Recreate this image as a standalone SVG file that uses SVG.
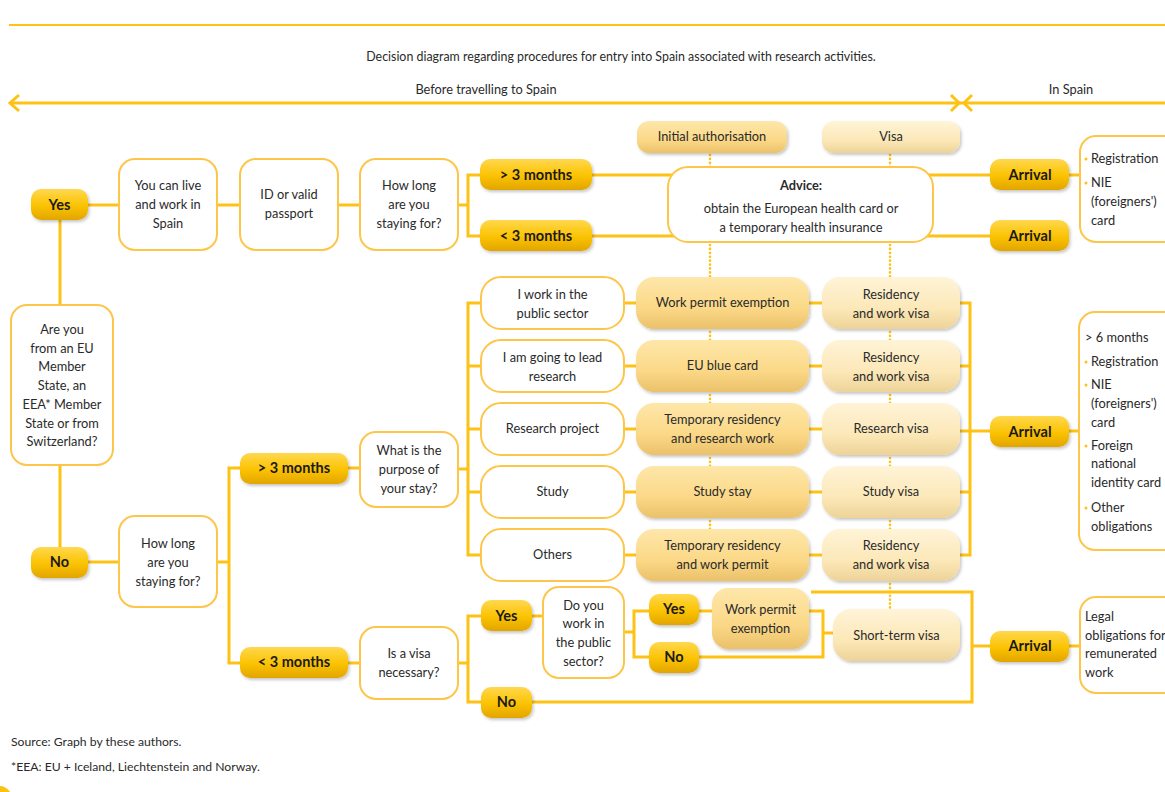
<svg xmlns="http://www.w3.org/2000/svg" width="1165" height="792" viewBox="0 0 1165 792">
<defs>
<linearGradient id="gold" x1="0" y1="0" x2="0" y2="1">
<stop offset="0" stop-color="#FFD84F"/><stop offset="0.55" stop-color="#FBC200"/><stop offset="1" stop-color="#E2A500"/>
</linearGradient>
<linearGradient id="perm" x1="0" y1="0" x2="0" y2="1">
<stop offset="0" stop-color="#FEE7AA"/><stop offset="0.6" stop-color="#FBD887"/><stop offset="1" stop-color="#EBC16A"/>
</linearGradient>
<linearGradient id="visa" x1="0" y1="0" x2="0" y2="1">
<stop offset="0" stop-color="#FFF4D8"/><stop offset="0.6" stop-color="#FCE8B8"/><stop offset="1" stop-color="#EDD398"/>
</linearGradient>
<filter id="sh" x="-20%" y="-20%" width="140%" height="150%">
<feDropShadow dx="1.5" dy="2" stdDeviation="1.5" flood-color="#000" flood-opacity="0.22"/>
</filter>
<style>
.ln{stroke:#FDC214;stroke-width:3;fill:none}
.thin{stroke:#FDC214;stroke-width:2;fill:none}
.dot{stroke:#FDC214;stroke-width:2.6;stroke-dasharray:0.1 3.8;stroke-linecap:round;fill:none}
.wb{fill:#fff;stroke:#FDC64A;stroke-width:2}
.gp{fill:url(#gold);filter:url(#sh)}
.pm{fill:url(#perm);filter:url(#sh)}
.vs{fill:url(#visa);filter:url(#sh)}
text{font-family:Lato,"Liberation Sans",sans-serif;font-size:12.8px;fill:#2a2a2a;text-anchor:middle}
.b{font-weight:bold;font-size:14.5px;fill:#1a1a1a}
.l{text-anchor:start}
.bul{fill:#FDC214}
</style>
</defs>
<rect width="1165" height="792" fill="#fff"/>

<g id="header">
<line class="thin" x1="9" y1="25" x2="1165" y2="25"/>
<text x="621" y="61" style="font-size:12.4px">Decision diagram regarding procedures for entry into Spain associated with research activities.</text>
<line class="ln" x1="10" y1="103" x2="1165" y2="103"/>
<polyline class="ln" points="19,95 10,103 19,111"/>
<polyline class="ln" points="951,95 959,103 951,111"/>
<polyline class="ln" points="972,95 964,103 972,111"/>
<text x="486" y="94">Before travelling to Spain</text>
<text x="1071" y="94">In Spain</text>
</g>

<g id="connectors">
<line class="ln" x1="88" y1="205" x2="119" y2="205"/>
<line class="ln" x1="217" y1="205" x2="240" y2="205"/>
<line class="ln" x1="338" y1="205" x2="360" y2="205"/>
<polyline class="ln" points="458,205 468,205"/>
<polyline class="ln" points="480,175 468,175 468,236 480,236"/>
<line class="ln" x1="592" y1="175" x2="990" y2="175"/>
<line class="ln" x1="592" y1="236" x2="990" y2="236"/>
<line class="ln" x1="1069" y1="175" x2="1081" y2="175"/>
<line class="dot" x1="710" y1="155" x2="710" y2="167"/>
<line class="dot" x1="890" y1="155" x2="890" y2="167"/>
<line class="dot" x1="710" y1="245" x2="710" y2="277"/>
<line class="dot" x1="890" y1="245" x2="890" y2="277"/>
<line class="dot" x1="710" y1="332" x2="710" y2="340"/>
<line class="dot" x1="890" y1="332" x2="890" y2="340"/>
<line class="dot" x1="710" y1="395" x2="710" y2="403"/>
<line class="dot" x1="890" y1="395" x2="890" y2="403"/>
<line class="dot" x1="710" y1="458" x2="710" y2="466"/>
<line class="dot" x1="890" y1="458" x2="890" y2="466"/>
<line class="dot" x1="710" y1="521" x2="710" y2="529"/>
<line class="dot" x1="890" y1="521" x2="890" y2="529"/>
<line class="dot" x1="890" y1="584" x2="890" y2="609"/>
<line class="ln" x1="60" y1="220" x2="60" y2="305"/>
<line class="ln" x1="60" y1="465" x2="60" y2="547"/>
<line class="ln" x1="88" y1="562" x2="119" y2="562"/>
<line class="ln" x1="217" y1="562" x2="229" y2="562"/>
<polyline class="ln" points="240,468 229,468 229,663 240,663"/>
<line class="ln" x1="348" y1="468" x2="360" y2="468"/>
<line class="ln" x1="458" y1="469" x2="468" y2="469"/>
<polyline class="ln" points="481,303 468,303 468,555 481,555"/>
<line class="ln" x1="468" y1="366" x2="481" y2="366"/>
<line class="ln" x1="468" y1="429" x2="481" y2="429"/>
<line class="ln" x1="468" y1="492" x2="481" y2="492"/>
<line class="ln" x1="624" y1="303" x2="636" y2="303"/>
<line class="ln" x1="624" y1="366" x2="636" y2="366"/>
<line class="ln" x1="624" y1="429" x2="636" y2="429"/>
<line class="ln" x1="624" y1="492" x2="636" y2="492"/>
<line class="ln" x1="624" y1="555" x2="636" y2="555"/>
<line class="ln" x1="809" y1="303" x2="822" y2="303"/>
<line class="ln" x1="809" y1="366" x2="822" y2="366"/>
<line class="ln" x1="809" y1="429" x2="822" y2="429"/>
<line class="ln" x1="809" y1="492" x2="822" y2="492"/>
<line class="ln" x1="809" y1="555" x2="822" y2="555"/>
<polyline class="ln" points="960,303 970,303 970,555 960,555"/>
<line class="ln" x1="960" y1="366" x2="970" y2="366"/>
<line class="ln" x1="960" y1="431" x2="990" y2="431"/>
<line class="ln" x1="960" y1="492" x2="970" y2="492"/>
<line class="ln" x1="1069" y1="431" x2="1080" y2="431"/>
<line class="ln" x1="348" y1="663" x2="360" y2="663"/>
<line class="ln" x1="458" y1="663" x2="468" y2="663"/>
<polyline class="ln" points="481,616 468,616 468,702 481,702"/>
<line class="ln" x1="532" y1="616" x2="543" y2="616"/>
<line class="ln" x1="624" y1="632" x2="634" y2="632"/>
<polyline class="ln" points="649,611 634,611 634,657 649,657"/>
<line class="ln" x1="699" y1="611" x2="712" y2="611"/>
<polyline class="ln" points="809,611 823,611 823,657 699,657"/>
<line class="ln" x1="823" y1="633" x2="833" y2="633"/>
<polyline class="ln" points="811,592 972,592 972,702 532,702"/>
<line class="ln" x1="972" y1="646" x2="990" y2="646"/>
<line class="ln" x1="1069" y1="646" x2="1080" y2="646"/>
</g>

<g id="yes1"><rect class="gp" x="31" y="189" width="57" height="31" rx="10"/><text class="b" x="59.5" y="210">Yes</text></g>
<g id="live"><rect class="wb" x="119" y="159" width="98" height="91" rx="16"/><text x="168" y="190">You can live</text><text x="168" y="209">and work in</text><text x="168" y="228">Spain</text></g>
<g id="idpass"><rect class="wb" x="240" y="159" width="98" height="91" rx="16"/><text x="289" y="199">ID or valid</text><text x="289" y="218">passport</text></g>
<g id="howlong1"><rect class="wb" x="360" y="159" width="98" height="91" rx="16"/><text x="409" y="190">How long</text><text x="409" y="209">are you</text><text x="409" y="228">staying for?</text></g>
<g id="gt3a"><rect class="gp" x="480" y="159" width="112" height="31" rx="10"/><text class="b" x="536" y="180">&gt; 3 months</text></g>
<g id="lt3a"><rect class="gp" x="480" y="220" width="112" height="31" rx="10"/><text class="b" x="536" y="241">&lt; 3 months</text></g>
<g id="initauth"><rect class="pm" x="637" y="121" width="150" height="32" rx="12"/><text x="712" y="141">Initial authorisation</text></g>
<g id="visa"><rect class="vs" x="822" y="121" width="138" height="32" rx="12"/><text x="891" y="141">Visa</text></g>
<g id="advice"><rect class="wb" x="668" y="167" width="265" height="75" rx="20"/><text x="801" y="190" style="font-weight:bold">Advice:</text><text x="801" y="213">obtain the European health card or</text><text x="801" y="232">a temporary health insurance</text></g>
<g id="arrival1"><rect class="gp" x="990" y="159" width="79" height="31" rx="10"/><text class="b" x="1030" y="180">Arrival</text></g>
<g id="arrival2"><rect class="gp" x="990" y="220" width="79" height="31" rx="10"/><text class="b" x="1030" y="241">Arrival</text></g>
<g id="reg1"><rect class="wb" x="1080" y="136" width="110" height="106" rx="16"/>
<circle class="bul" cx="1086" cy="159" r="1.5"/><text class="l" x="1091" y="163">Registration</text>
<circle class="bul" cx="1086" cy="183" r="1.5"/><text class="l" x="1091" y="187">NIE</text>
<text class="l" x="1091" y="206">(foreigners')</text><text class="l" x="1091" y="225">card</text></g>

<g id="eu"><rect class="wb" x="11" y="305" width="102" height="160" rx="16"/>
<text x="62" y="334">Are you</text><text x="62" y="353">from an EU</text><text x="62" y="371">Member</text><text x="62" y="390">State, an</text><text x="62" y="409">EEA* Member</text><text x="62" y="428">State or from</text><text x="62" y="446">Switzerland?</text></g>
<g id="no1"><rect class="gp" x="31" y="547" width="57" height="31" rx="10"/><text class="b" x="59.5" y="567">No</text></g>
<g id="howlong2"><rect class="wb" x="119" y="516" width="98" height="91" rx="16"/><text x="168" y="548">How long</text><text x="168" y="567">are you</text><text x="168" y="586">staying for?</text></g>
<g id="gt3b"><rect class="gp" x="240" y="453" width="108" height="31" rx="10"/><text class="b" x="294" y="473">&gt; 3 months</text></g>
<g id="lt3b"><rect class="gp" x="240" y="647" width="108" height="31" rx="10"/><text class="b" x="294" y="667">&lt; 3 months</text></g>
<g id="purpose"><rect class="wb" x="360" y="432" width="98" height="75" rx="16"/><text x="409" y="455">What is the</text><text x="409" y="474">purpose of</text><text x="409" y="493">your stay?</text></g>

<g id="opt1"><rect class="wb" x="481" y="277" width="143" height="52" rx="20"/><text x="552.5" y="299">I work in the</text><text x="552.5" y="318">public sector</text></g>
<g id="opt2"><rect class="wb" x="481" y="340" width="143" height="52" rx="20"/><text x="552.5" y="362">I am going to lead</text><text x="552.5" y="381">research</text></g>
<g id="opt3"><rect class="wb" x="481" y="403" width="143" height="52" rx="20"/><text x="552.5" y="433">Research project</text></g>
<g id="opt4"><rect class="wb" x="481" y="466" width="143" height="52" rx="20"/><text x="552.5" y="496">Study</text></g>
<g id="opt5"><rect class="wb" x="481" y="529" width="143" height="52" rx="20"/><text x="552.5" y="559">Others</text></g>

<g id="perm1"><rect class="pm" x="636" y="277" width="173" height="52" rx="18"/><text x="722.5" y="307">Work permit exemption</text></g>
<g id="perm2"><rect class="pm" x="636" y="340" width="173" height="52" rx="18"/><text x="722.5" y="370">EU blue card</text></g>
<g id="perm3"><rect class="pm" x="636" y="403" width="173" height="52" rx="18"/><text x="722.5" y="424">Temporary residency</text><text x="722.5" y="443">and research work</text></g>
<g id="perm4"><rect class="pm" x="636" y="466" width="173" height="52" rx="18"/><text x="722.5" y="496">Study stay</text></g>
<g id="perm5"><rect class="pm" x="636" y="529" width="173" height="52" rx="18"/><text x="722.5" y="550">Temporary residency</text><text x="722.5" y="569">and work permit</text></g>

<g id="visa1"><rect class="vs" x="822" y="277" width="138" height="52" rx="18"/><text x="891" y="299">Residency</text><text x="891" y="318">and work visa</text></g>
<g id="visa2"><rect class="vs" x="822" y="340" width="138" height="52" rx="18"/><text x="891" y="362">Residency</text><text x="891" y="381">and work visa</text></g>
<g id="visa3"><rect class="vs" x="822" y="403" width="138" height="52" rx="18"/><text x="891" y="433">Research visa</text></g>
<g id="visa4"><rect class="vs" x="822" y="466" width="138" height="52" rx="18"/><text x="891" y="496">Study visa</text></g>
<g id="visa5"><rect class="vs" x="822" y="529" width="138" height="52" rx="18"/><text x="891" y="550">Residency</text><text x="891" y="569">and work visa</text></g>

<g id="arrival3"><rect class="gp" x="990" y="416" width="79" height="31" rx="10"/><text class="b" x="1030" y="437">Arrival</text></g>
<g id="reg2"><rect class="wb" x="1079" y="312" width="110" height="238" rx="16"/>
<text class="l" x="1085" y="342">&gt; 6 months</text>
<circle class="bul" cx="1086" cy="362" r="1.5"/><text class="l" x="1091" y="366">Registration</text>
<circle class="bul" cx="1086" cy="385" r="1.5"/><text class="l" x="1091" y="389">NIE</text>
<text class="l" x="1091" y="408">(foreigners')</text><text class="l" x="1091" y="427">card</text>
<circle class="bul" cx="1086" cy="446" r="1.5"/><text class="l" x="1091" y="450">Foreign</text>
<text class="l" x="1091" y="468">national</text><text class="l" x="1091" y="487">identity card</text>
<circle class="bul" cx="1086" cy="508" r="1.5"/><text class="l" x="1091" y="512">Other</text>
<text class="l" x="1091" y="531">obligations</text></g>

<g id="visaq"><rect class="wb" x="360" y="627" width="98" height="72" rx="16"/><text x="409" y="658">Is a visa</text><text x="409" y="677">necessary?</text></g>
<g id="yes2"><rect class="gp" x="481" y="600" width="51" height="31" rx="10"/><text class="b" x="506.5" y="621">Yes</text></g>
<g id="no2"><rect class="gp" x="481" y="687" width="51" height="31" rx="10"/><text class="b" x="506.5" y="707">No</text></g>
<g id="public"><rect class="wb" x="543" y="587" width="81" height="91" rx="16"/><text x="583.5" y="610">Do you</text><text x="583.5" y="628">work in</text><text x="583.5" y="647">the public</text><text x="583.5" y="666">sector?</text></g>
<g id="yes3"><rect class="gp" x="649" y="594" width="50" height="31" rx="10"/><text class="b" x="674" y="614">Yes</text></g>
<g id="no3"><rect class="gp" x="649" y="642" width="50" height="31" rx="10"/><text class="b" x="674" y="662">No</text></g>
<g id="wpe2"><rect class="pm" x="712" y="588" width="97" height="61" rx="16"/><text x="760.5" y="614">Work permit</text><text x="760.5" y="633">exemption</text></g>
<g id="shortvisa"><rect class="vs" x="833" y="609" width="127" height="52" rx="18"/><text x="896.5" y="640">Short-term visa</text></g>
<g id="arrival4"><rect class="gp" x="990" y="631" width="79" height="31" rx="10"/><text class="b" x="1030" y="651">Arrival</text></g>
<g id="legal"><rect class="wb" x="1080" y="597" width="110" height="96" rx="16"/>
<text class="l" x="1085" y="621">Legal</text><text class="l" x="1085" y="640">obligations for</text><text class="l" x="1085" y="658">remunerated</text><text class="l" x="1085" y="677">work</text></g>

<g id="footer">
<text class="l" x="11" y="746" style="font-size:12.2px">Source: Graph by these authors.</text>
<text class="l" x="11" y="771" style="font-size:12.2px">*EEA: EU + Iceland, Liechtenstein and Norway.</text>
<circle cx="-1" cy="799" r="13" fill="#FDC214"/>
</g>
</svg>
